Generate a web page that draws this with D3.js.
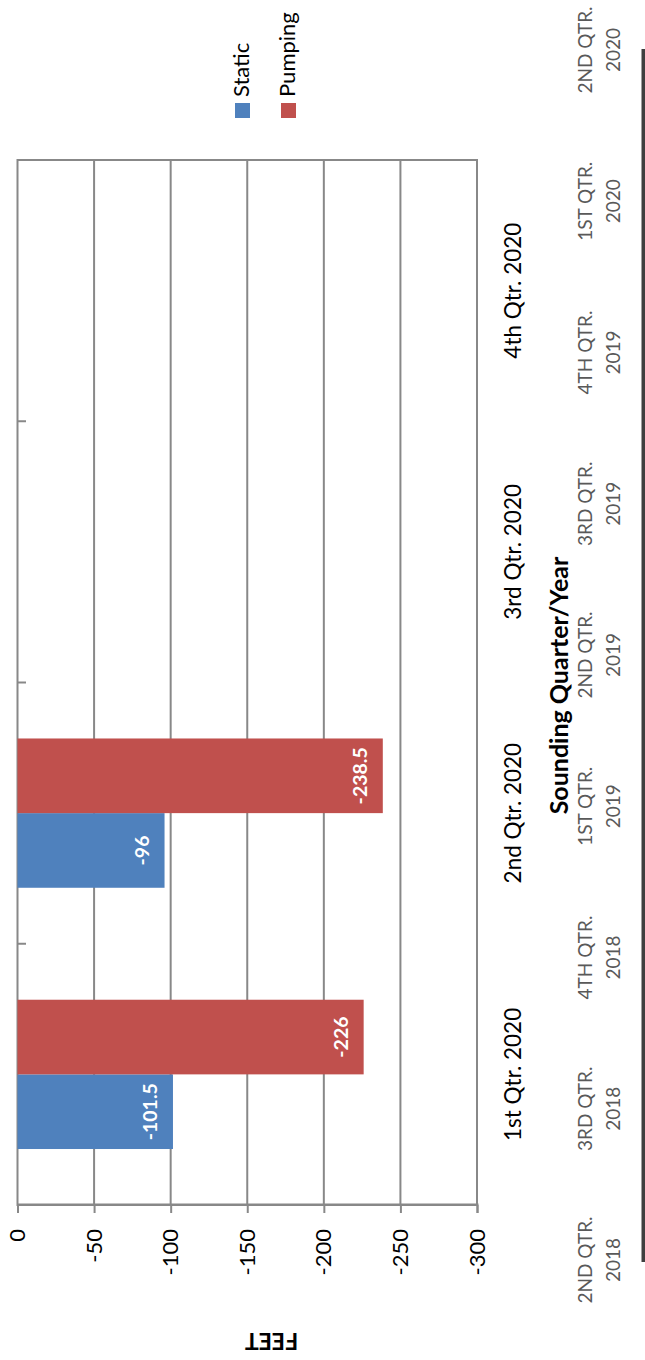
<!DOCTYPE html>
<html>
<head>
<meta charset="utf-8">
<script src="https://cdn.jsdelivr.net/npm/d3@7"></script>
<style>
  html, body { margin: 0; padding: 0; background: #fff; }
  svg { display: block; }
  text { font-family: Lato, "Open Sans", sans-serif; }
</style>
</head>
<body>
<svg id="chart" width="645" height="1360"></svg>
<script>
// Quarterly sounding levels (feet below reference)
const categories = ["1st Qtr. 2020", "2nd Qtr. 2020", "3rd Qtr. 2020", "4th Qtr. 2020"];
const series = ["Static", "Pumping"];
const staticValues = [-101.5, -96, null, null];
const pumpingValues = [-226, -238.5, null, null];
const valueTicks = [0, -50, -100, -150, -200, -250, -300];
const colors = ["#4F81BD", "#C0504D"];
// Quarter captions printed along the bottom table row
const quarterCaptions = [
  ["2ND QTR.", "2018"], ["3RD QTR.", "2018"], ["4TH QTR.", "2018"],
  ["1ST QTR.", "2019"], ["2ND QTR.", "2019"], ["3RD QTR.", "2019"],
  ["4TH QTR.", "2019"], ["1ST QTR.", "2020"], ["2ND QTR.", "2020"]
];

const W = 1360, H = 645;   // chart drawn in landscape, then turned onto the page
const plot = { left: 155, right: 1200, top: 17.5, bottom: 477 };

const svg = d3.select("#chart");
const g = svg.append("g").attr("transform", `translate(0,${W}) rotate(-90)`);

const x = d3.scaleBand().domain(categories).range([plot.left, plot.right]).padding(0);
const xs = d3.scaleBand().domain(series).range([0, x.bandwidth()]).paddingInner(0).paddingOuter(0.75);
const y = d3.scaleLinear().domain([0, -300]).range([plot.top, plot.bottom]);

const gridColor = "#888888";

// horizontal gridlines
g.append("g").selectAll("line").data(valueTicks.slice(1)).join("line")
  .attr("x1", plot.left).attr("x2", plot.right)
  .attr("y1", d => y(d)).attr("y2", d => y(d))
  .attr("stroke", gridColor).attr("stroke-width", 2);

// plot frame
g.append("rect")
  .attr("x", plot.left).attr("y", plot.top)
  .attr("width", plot.right - plot.left).attr("height", plot.bottom - plot.top)
  .attr("fill", "none").attr("stroke", gridColor).attr("stroke-width", 2);

// bars
const rows = categories.map((c, i) => ({ cat: c, vals: [staticValues[i], pumpingValues[i]] }));
const barG = g.append("g");
rows.forEach(r => {
  r.vals.forEach((v, j) => {
    if (v == null) return;
    const bx = x(r.cat) + xs(series[j]);
    barG.append("rect")
      .attr("x", bx).attr("y", y(0))
      .attr("width", xs.bandwidth()).attr("height", y(v) - y(0))
      .attr("fill", colors[j]);
    barG.append("text")
      .attr("x", bx + xs.bandwidth() / 2)
      .attr("y", y(v) - 16)
      .attr("text-anchor", "middle")
      .attr("fill", "#fff").attr("font-weight", "bold")
      .attr("font-size", 19.5)
      .text(v);
  });
});

// category ticks on the zero line, pointing into the plot
g.append("g").selectAll("line").data(categories.slice(1)).join("line")
  .attr("x1", d => x(d)).attr("x2", d => x(d))
  .attr("y1", y(0)).attr("y2", y(0) + 8.5)
  .attr("stroke", gridColor).attr("stroke-width", 2);

// category labels below the plot
g.append("g").selectAll("text").data(categories).join("text")
  .attr("x", d => x(d) + x.bandwidth() / 2)
  .attr("y", 521)
  .attr("text-anchor", "middle")
  .attr("font-size", 22.5).attr("fill", "#000")
  .text(d => d);

// value axis on the left edge
const valAxis = d3.axisLeft(y).tickValues(valueTicks).tickSize(8).tickPadding(16).tickFormat(d => String(d));
const va = g.append("g").attr("transform", `translate(${plot.left},0)`).call(valAxis);
va.select(".domain").attr("stroke", gridColor).attr("stroke-width", 2);
va.selectAll(".tick line").attr("stroke", gridColor).attr("stroke-width", 2);
va.selectAll(".tick text").attr("font-size", 22).attr("fill", "#000")
  .attr("font-family", "Lato, sans-serif");

// axis titles
g.append("text")
  .attr("x", (plot.left + plot.right) / 2 - 3).attr("y", 568)
  .attr("text-anchor", "middle")
  .attr("font-size", 25).attr("font-weight", "bold").attr("fill", "#000")
  .text("Sounding Quarter/Year");
g.append("text")
  .attr("transform", `translate(27,271.5) rotate(-90)`)
  .attr("text-anchor", "middle")
  .attr("font-size", 23).attr("font-weight", "bold").attr("fill", "#000")
  .text("FEET");

// legend
const legend = g.append("g").selectAll("g").data(series).join("g")
  .attr("transform", (d, i) => `translate(1242,${[235, 281][i]})`);
legend.append("rect").attr("width", 15).attr("height", 15).attr("fill", (d, i) => colors[i]);
legend.append("text").attr("x", 21).attr("y", 14)
  .attr("font-size", 22).attr("fill", "#000").text(d => d);

// quarter caption row with its rule
const cap = d3.scaleLinear().domain([0, quarterCaptions.length - 1]).range([100, 1310]);
const capG = g.append("g").selectAll("text").data(quarterCaptions).join("text")
  .attr("text-anchor", "middle").attr("font-size", 19).attr("fill", "#595959");
capG.append("tspan").attr("x", (d, i) => cap(i)).attr("y", 592).text(d => d[0]);
capG.append("tspan").attr("x", (d, i) => cap(i)).attr("y", 620).text(d => d[1]);
g.append("rect").attr("x", 98).attr("y", 641.5).attr("width", 1213).attr("height", 4).attr("fill", "#3f3f3f");
</script>
</body>
</html>
